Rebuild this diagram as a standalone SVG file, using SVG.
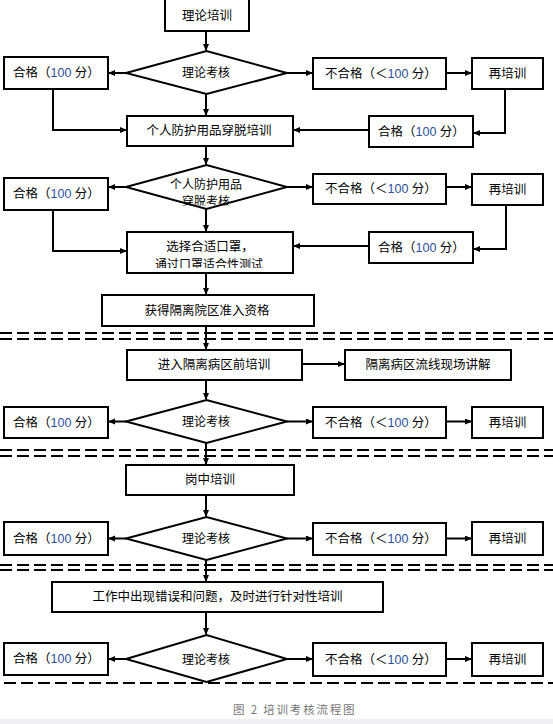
<svg xmlns="http://www.w3.org/2000/svg" width="553" height="724" viewBox="0 0 553 724">
<style>
.b{fill:#fff;stroke:#000;stroke-width:2}
.t{font-family:"Liberation Sans","Noto Sans CJK SC",sans-serif;font-size:12.5px;fill:#000}
.s{font-size:12px}
.m{text-anchor:middle}
.n{fill:#2b4f9e}
.c{fill:none;stroke:#000;stroke-width:2}
.a{marker-end:url(#ah)}
.d{stroke:#000;stroke-width:2;stroke-dasharray:12 5}
.cap{font-family:"Noto Sans CJK SC",sans-serif;font-size:11.5px;fill:#777;letter-spacing:1.8px}
</style>
<defs>
<marker id="ah" markerUnits="userSpaceOnUse" markerWidth="8" markerHeight="8" refX="6" refY="3" orient="auto">
<path d="M0,0 L7,3 L0,6 z" fill="#000"/>
</marker>
<clipPath id="cd2"><rect x="120" y="160" width="175" height="45.5"/></clipPath>
<clipPath id="cmk"><rect x="127" y="232" width="166" height="36"/></clipPath>
</defs>
<rect x="0" y="719" width="553" height="5" fill="#eeeef3"/>

<g id="dividers">
<line class="d" x1="0" y1="333" x2="553" y2="333"/>
<line class="d" x1="0" y1="339" x2="553" y2="339"/>
<line class="d" x1="0" y1="450" x2="553" y2="450"/>
<line class="d" x1="0" y1="456" x2="553" y2="456"/>
<line class="d" x1="0" y1="565" x2="553" y2="565"/>
<line class="d" x1="0" y1="570" x2="553" y2="570"/>
<line class="d" x1="4" y1="683" x2="553" y2="683"/>
</g>

<g id="connectors">
<line class="c a" x1="206" y1="31" x2="206" y2="50"/>
<line class="c a" x1="126" y1="73" x2="109" y2="73"/>
<line class="c a" x1="287" y1="73" x2="312" y2="73"/>
<line class="c a" x1="446" y1="73" x2="471" y2="73"/>
<polyline class="c a" points="505,89 505,133 474,133"/>
<line class="c a" x1="369" y1="130" x2="294" y2="130"/>
<polyline class="c a" points="53,89 53,130 126,130"/>
<line class="c a" x1="206" y1="94" x2="206" y2="115"/>
<line class="c a" x1="206" y1="146" x2="206" y2="164"/>

<line class="c a" x1="126" y1="187" x2="109" y2="187"/>
<line class="c a" x1="287" y1="187" x2="312" y2="187"/>
<line class="c a" x1="446" y1="187" x2="471" y2="187"/>
<polyline class="c a" points="506,205 506,249 474,249"/>
<line class="c a" x1="369" y1="246" x2="294" y2="246"/>
<polyline class="c a" points="53,210 53,251 126,251"/>
<line class="c a" x1="206" y1="209" x2="206" y2="231"/>
<line class="c a" x1="206" y1="273" x2="206" y2="294"/>
<line class="c a" x1="206" y1="326" x2="206" y2="349"/>

<line class="c a" x1="302" y1="364" x2="344" y2="364"/>
<line class="c a" x1="206" y1="380" x2="206" y2="399"/>
<line class="c a" x1="126" y1="421.5" x2="109" y2="421.5"/>
<line class="c a" x1="287" y1="421.5" x2="312" y2="421.5"/>
<line class="c a" x1="446" y1="421.5" x2="471" y2="421.5"/>
<line class="c a" x1="206" y1="443" x2="206" y2="464"/>

<line class="c a" x1="206" y1="495" x2="206" y2="516"/>
<line class="c a" x1="126" y1="538.5" x2="109" y2="538.5"/>
<line class="c a" x1="287" y1="538.5" x2="312" y2="538.5"/>
<line class="c a" x1="446" y1="538.5" x2="471" y2="538.5"/>
<line class="c a" x1="206" y1="560" x2="206" y2="581"/>

<line class="c a" x1="206" y1="612" x2="206" y2="634"/>
<line class="c a" x1="126" y1="659" x2="109" y2="659"/>
<line class="c a" x1="287" y1="659" x2="312" y2="659"/>
<line class="c a" x1="446" y1="659" x2="471" y2="659"/>
</g>

<g id="theory-training"><rect class="b" x="165" y="-2" width="84" height="33"/><text class="t m" x="207" y="16" dominant-baseline="central">理论培训</text></g>
<g id="theory-exam-1"><polygon class="b" points="126,73 206.5,51 287,73 206.5,94"/><text class="t s m" x="206" y="73" dominant-baseline="central">理论考核</text></g>
<g id="pass-1"><rect class="b" x="4" y="57" width="104" height="32"/><text class="t" x="13" y="73" dominant-baseline="central">合格（<tspan class="n">100</tspan> 分）</text></g>
<g id="fail-1"><rect class="b" x="313" y="58" width="133" height="31"/><text class="t" x="325" y="73.5" dominant-baseline="central">不合格（＜<tspan class="n">100</tspan> 分）</text></g>
<g id="retrain-1"><rect class="b" x="472" y="58" width="71" height="31"/><text class="t m" x="507.5" y="73.5" dominant-baseline="central">再培训</text></g>
<g id="pass-1r"><rect class="b" x="369" y="116" width="104" height="31"/><text class="t" x="378" y="131.5" dominant-baseline="central">合格（<tspan class="n">100</tspan> 分）</text></g>
<g id="ppe-training"><rect class="b" x="127" y="116" width="166" height="30"/><text class="t m" x="209" y="131" dominant-baseline="central">个人防护用品穿脱培训</text></g>

<g id="ppe-exam"><polygon class="b" points="126,187 206.5,165 287,187 206.5,209"/><g clip-path="url(#cd2)"><text class="t s m" x="206" y="185" dominant-baseline="central">个人防护用品</text><text class="t s m" x="206" y="202" dominant-baseline="central">穿脱考核</text></g></g>
<g id="pass-2"><rect class="b" x="4" y="178" width="104" height="32"/><text class="t" x="13" y="194" dominant-baseline="central">合格（<tspan class="n">100</tspan> 分）</text></g>
<g id="fail-2"><rect class="b" x="313" y="174" width="133" height="30"/><text class="t" x="325" y="189" dominant-baseline="central">不合格（＜<tspan class="n">100</tspan> 分）</text></g>
<g id="retrain-2"><rect class="b" x="472" y="174" width="71" height="31"/><text class="t m" x="507.5" y="189.5" dominant-baseline="central">再培训</text></g>
<g id="pass-2r"><rect class="b" x="369" y="232" width="104" height="31"/><text class="t" x="378" y="247.5" dominant-baseline="central">合格（<tspan class="n">100</tspan> 分）</text></g>
<g id="mask-fit"><rect class="b" x="127" y="232" width="166" height="41"/><g clip-path="url(#cmk)"><text class="t m" x="210" y="247" dominant-baseline="central">选择合适口罩，</text><text class="t s m" x="209" y="265" dominant-baseline="central">通过口罩适合性测试</text></g></g>
<g id="qualified"><rect class="b" x="102" y="295" width="212" height="31"/><text class="t m" x="207" y="310.5" dominant-baseline="central">获得隔离院区准入资格</text></g>

<g id="pre-ward-training"><rect class="b" x="127" y="350" width="175" height="30"/><text class="t m" x="214" y="365" dominant-baseline="central">进入隔离病区前培训</text></g>
<g id="ward-walkthrough"><rect class="b" x="345" y="350" width="166" height="30"/><text class="t m" x="428" y="365" dominant-baseline="central">隔离病区流线现场讲解</text></g>
<g id="theory-exam-3"><polygon class="b" points="126,421.5 206.5,400 287,421.5 206.5,443"/><text class="t s m" x="206" y="421.5" dominant-baseline="central">理论考核</text></g>
<g id="pass-3"><rect class="b" x="4" y="407" width="104" height="31"/><text class="t" x="13" y="422.5" dominant-baseline="central">合格（<tspan class="n">100</tspan> 分）</text></g>
<g id="fail-3"><rect class="b" x="313" y="407" width="133" height="31"/><text class="t" x="325" y="422.5" dominant-baseline="central">不合格（＜<tspan class="n">100</tspan> 分）</text></g>
<g id="retrain-3"><rect class="b" x="472" y="407" width="71" height="31"/><text class="t m" x="507.5" y="422.5" dominant-baseline="central">再培训</text></g>

<g id="on-job-training"><rect class="b" x="126" y="465" width="168" height="30"/><text class="t m" x="210" y="480" dominant-baseline="central">岗中培训</text></g>
<g id="theory-exam-4"><polygon class="b" points="126,538.5 206.5,517 287,538.5 206.5,560"/><text class="t s m" x="206" y="538.5" dominant-baseline="central">理论考核</text></g>
<g id="pass-4"><rect class="b" x="4" y="522" width="104" height="33"/><text class="t" x="13" y="538.5" dominant-baseline="central">合格（<tspan class="n">100</tspan> 分）</text></g>
<g id="fail-4"><rect class="b" x="313" y="523" width="133" height="32"/><text class="t" x="325" y="539" dominant-baseline="central">不合格（＜<tspan class="n">100</tspan> 分）</text></g>
<g id="retrain-4"><rect class="b" x="472" y="522" width="71" height="33"/><text class="t m" x="507.5" y="538.5" dominant-baseline="central">再培训</text></g>

<g id="targeted-training"><rect class="b" x="52" y="582" width="331" height="30"/><text class="t m" x="217.5" y="597" dominant-baseline="central">工作中出现错误和问题，及时进行针对性培训</text></g>
<g id="theory-exam-5"><polygon class="b" points="126,659 206.5,635 287,659 206.5,682"/><text class="t s m" x="206" y="660" dominant-baseline="central">理论考核</text></g>
<g id="pass-5"><rect class="b" x="4" y="643" width="104" height="32"/><text class="t" x="13" y="659" dominant-baseline="central">合格（<tspan class="n">100</tspan> 分）</text></g>
<g id="fail-5"><rect class="b" x="313" y="643" width="133" height="33"/><text class="t" x="325" y="659.5" dominant-baseline="central">不合格（＜<tspan class="n">100</tspan> 分）</text></g>
<g id="retrain-5"><rect class="b" x="472" y="643" width="71" height="33"/><text class="t m" x="507.5" y="659.5" dominant-baseline="central">再培训</text></g>

<text class="cap" x="233" y="709" dominant-baseline="central">图 2 培训考核流程图</text>
</svg>
